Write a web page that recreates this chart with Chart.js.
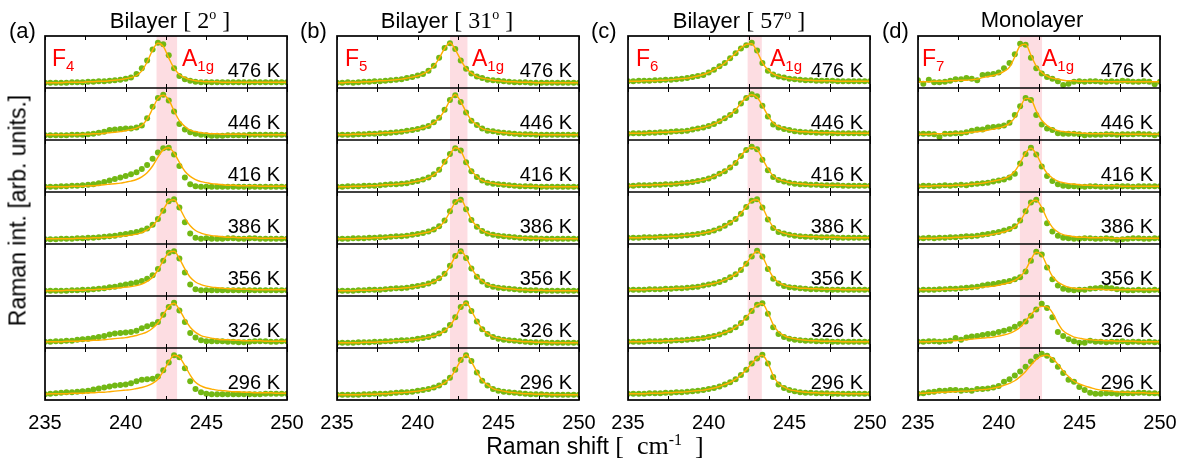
<!DOCTYPE html>
<html>
<head>
<meta charset="utf-8">
<title>Raman A1g vs temperature</title>
<script src="https://cdn.jsdelivr.net/npm/chart.js"></script>
<style>
  html, body { margin: 0; padding: 0; background: #fff; }
  #fig { position: relative; width: 1186px; height: 463px; overflow: hidden;
         font-family: "Liberation Sans", Arial, sans-serif; color: #000; }
  #fig canvas { position: absolute; top: 0; }
  .t { position: absolute; white-space: nowrap; }
  .serif { font-family: "Liberation Serif", "Times New Roman", serif; }
  .title { font-size: 22px; line-height: 22px; width: 300px; text-align: center; }
  .title .serif { font-size: 24px; }
  .title .deg { font-size: 14px; position: relative; top: -9px; }
  .letter { font-size: 22px; line-height: 22px; }
  .mode { font-size: 23px; line-height: 23px; color: #ff0000; }
  .mode .sub { font-size: 15px; position: relative; top: 5px; }
  .temp { font-size: 20px; line-height: 20px; width: 100px; text-align: right; }
  .axt { font-size: 23px; line-height: 23px; width: 400px; text-align: center; }
  .axt .serif { font-size: 26px; }
  .axt .sup { font-size: 16px; position: relative; top: -9px; }
</style>
</head>
<body>
<div id="fig"></div>
<script>
// Raman shift grid (cm-1), one dot every 1/3 cm-1
var xs = [235,235.33,235.67,236,236.33,236.67,237,237.33,237.67,238,238.33,238.67,239,239.33,239.67,
          240,240.33,240.67,241,241.33,241.67,242,242.33,242.67,243,243.33,243.67,244,244.33,244.67,
          245,245.33,245.67,246,246.33,246.67,247,247.33,247.67,248,248.33,248.67,249,249.33,249.67,250];
var temps = ['476 K', '446 K', '416 K', '386 K', '356 K', '326 K', '296 K'];
var xTicks = [235, 240, 245, 250];
var minorTicks = [237.5, 242.5, 247.5];
var panelLetters = ['(a)', '(b)', '(c)', '(d)'];
var panelTitles = ['Bilayer <span class="serif">[ 2<span class="deg">o</span> ]</span>',
                   'Bilayer <span class="serif">[ 31<span class="deg">o</span> ]</span>',
                   'Bilayer <span class="serif">[ 57<span class="deg">o</span> ]</span>',
                   'Monolayer'];
var modeIndex = ['4', '5', '6', '7'];
var bandLo = [241.9, 242.0, 242.4, 241.3];
var bandHi = [243.2, 243.1, 243.3, 242.7];

// intensities in % of one row, rows from 476 K (top) to 296 K (bottom)
var dotsA = [
  [10,10,10,10,10,11,11,11,12,12,13,13,14,15,16,18,20,27,38,53,74,87,84,63,38,23,17,14,12,11,11,11,11,11,11,11,11,11,11,11,11,11,11,11,11,11],
  [9,9,9,9,9,10,10,10,11,12,14,16,19,20,21,22,22,24,28,42,64,81,87,76,55,31,20,15,12,10,9,8,8,8,9,9,9,9,10,10,10,10,10,10,10,10],
  [10,10,10,11,11,12,12,13,14,15,17,19,22,25,28,31,34,38,44,52,64,76,84,85,72,50,28,15,11,10,10,10,10,10,10,10,10,10,10,10,10,10,10,10,10,10],
  [9,9,9,10,10,10,11,11,12,12,13,14,15,16,18,19,21,23,26,30,37,48,64,82,86,70,42,20,12,10,11,10,10,10,11,11,10,10,11,11,10,10,10,10,10,10],
  [10,10,10,10,10,11,11,12,12,13,14,15,17,18,20,22,24,26,29,33,40,52,68,83,86,72,45,22,13,11,11,11,11,11,11,11,11,11,11,11,11,11,11,11,11,11],
  [12,12,13,13,14,14,16,17,18,19,21,23,26,28,29,30,31,33,38,42,45,50,64,79,87,72,50,29,20,15,13,13,13,13,12,12,11,11,12,13,13,13,12,12,13,13],
  [11,12,13,14,15,15,16,17,18,20,22,24,26,28,29,30,32,36,39,40,41,45,57,72,86,82,61,36,21,15,12,11,11,11,11,11,11,11,11,11,11,12,12,12,12,12]
];
var fitA = [
  [10,10,10,10,11,11,11,11,12,12,13,13,14,15,16,18,20,24,33,50,73,86,80,58,38,26,20,16,14,13,12,12,12,11,11,11,11,11,11,11,11,11,11,11,11,11],
  [10,10,10,10,10,10,10,11,11,12,12,13,14,15,16,18,20,23,28,40,60,80,86,77,56,37,26,19,16,14,13,12,12,11,11,11,11,11,10,10,10,10,10,10,10,10],
  [10,10,10,10,10,11,11,11,12,12,13,14,15,16,17,19,21,24,29,37,50,67,81,85,75,57,40,30,24,20,18,16,15,14,13,13,12,12,12,12,11,11,11,11,11,11],
  [10,10,10,10,10,10,11,11,11,12,12,13,13,14,15,16,17,19,22,27,35,48,66,82,85,70,50,35,26,21,18,16,15,14,13,13,12,12,12,12,11,11,11,11,11,11],
  [10,10,10,10,11,11,11,11,12,12,13,13,14,15,16,17,18,20,23,28,36,50,68,83,86,72,52,36,27,22,19,17,16,15,14,14,13,13,13,12,12,12,12,12,12,12],
  [12,12,12,12,13,13,13,14,14,15,15,16,17,18,19,20,22,24,27,31,38,48,64,80,86,74,55,40,30,24,21,19,17,16,16,15,15,14,14,14,14,13,13,13,13,13],
  [11,12,12,12,12,13,13,13,14,14,15,15,16,17,18,19,20,22,24,27,32,40,55,73,86,82,66,48,34,27,23,21,19,18,17,16,16,15,15,14,14,14,14,13,13,13]
];
var dotsB = [
  [10,10,11,10,11,12,12,13,13,14,15,16,17,19,21,24,27,33,43,58,77,86,75,53,37,28,22,19,16,15,14,13,12,11,11,11,10,10,10,10,10,10,10,10,10,10],
  [10,10,10,10,11,11,12,12,13,13,14,15,16,18,19,21,24,27,34,43,58,77,86,73,53,37,29,22,18,17,15,14,13,12,11,11,11,10,10,10,10,10,10,10,10,10],
  [10,10,11,11,11,12,12,12,13,14,15,15,16,17,19,21,24,28,34,43,58,73,84,80,57,40,29,22,18,16,15,14,13,12,11,11,11,10,10,10,10,10,10,10,10,10],
  [10,10,10,11,11,11,12,12,13,13,14,15,15,16,18,19,21,24,28,34,45,63,81,85,67,46,33,25,20,18,16,15,14,13,12,11,11,11,10,10,10,10,10,10,10,10],
  [10,10,10,10,11,11,12,12,12,13,14,15,15,16,18,19,21,24,28,34,43,58,77,86,73,53,37,28,21,18,16,15,14,13,12,11,11,11,10,10,10,10,10,10,10,10],
  [10,10,10,10,11,11,11,12,12,13,13,14,15,15,16,18,19,21,24,28,34,44,59,79,86,71,51,36,27,21,18,16,15,14,13,12,11,11,11,10,10,10,10,10,10,10],
  [10,10,10,10,10,11,11,12,12,12,13,14,15,15,16,18,19,21,24,28,34,43,58,77,86,75,53,37,28,21,18,16,15,14,13,12,11,11,11,10,10,10,10,10,10,10]
];
var fitB = [
  [10,10,11,11,11,12,12,13,14,14,15,16,17,19,21,23,27,33,42,57,76,87,74,54,38,29,22,19,17,15,14,13,12,12,11,11,11,10,10,10,10,10,10,10,10,10],
  [10,10,10,11,11,11,12,12,13,14,14,15,16,17,19,21,23,27,33,42,57,76,87,74,54,38,29,22,19,17,15,14,13,12,12,11,11,11,10,10,10,10,10,10,10,10],
  [10,10,10,11,11,11,12,12,13,14,14,15,16,17,19,21,23,27,33,42,57,72,85,79,58,41,30,22,19,17,15,14,13,12,12,11,11,11,10,10,10,10,10,10,10,10],
  [10,10,10,10,11,11,11,12,12,13,14,14,15,16,17,19,21,23,27,33,44,62,80,86,68,47,34,26,21,18,17,15,14,13,12,12,11,11,11,10,10,10,10,10,10,10],
  [10,10,10,10,11,11,11,12,12,13,14,14,15,16,17,19,21,23,27,33,42,57,76,87,74,54,38,29,22,19,17,15,14,13,12,12,11,11,11,10,10,10,10,10,10,10],
  [10,10,10,10,10,11,11,11,12,12,13,14,14,15,16,17,19,21,23,27,33,43,58,78,87,72,52,37,28,22,19,17,15,14,13,12,12,11,11,11,10,10,10,10,10,10],
  [10,10,10,10,10,11,11,11,12,12,13,14,14,15,16,17,19,21,23,27,33,42,57,76,87,74,54,38,29,22,19,17,15,14,13,12,12,11,11,11,10,10,10,10,10,10]
];
var dotsC = [
  [13,13,14,14,14,15,15,16,16,17,18,19,21,23,25,30,35,42,48,57,67,76,82,87,72,48,33,26,22,20,18,17,16,15,15,14,14,14,14,13,13,13,13,13,13,13],
  [12,13,13,13,14,14,15,15,16,17,17,18,20,22,24,27,31,36,42,48,56,70,81,88,84,66,45,30,24,21,19,17,16,15,15,14,14,14,13,13,13,13,13,13,13,13],
  [12,12,13,13,13,14,14,15,15,16,17,18,19,21,23,26,30,35,40,47,56,69,81,87,82,62,42,29,23,20,18,16,15,15,14,14,13,13,13,13,12,12,12,12,12,12],
  [12,12,12,13,13,13,14,14,15,15,16,17,18,19,21,23,26,30,35,41,48,58,71,83,86,70,47,31,23,20,18,16,15,14,14,13,13,13,13,12,12,12,12,12,12,12],
  [12,12,12,12,13,13,13,14,14,15,15,16,17,18,20,22,24,27,31,36,42,50,62,76,87,76,52,33,24,19,17,16,15,14,13,13,13,12,12,12,12,12,12,12,12,12],
  [12,12,12,12,13,13,13,14,14,15,15,16,17,18,19,21,23,26,30,34,40,48,58,71,83,86,66,40,27,21,18,16,15,14,14,13,13,13,12,12,12,12,12,12,12,12],
  [12,12,12,12,13,13,13,14,14,15,15,16,17,18,19,21,23,26,30,34,40,48,58,70,80,87,70,44,30,23,19,17,15,14,14,13,13,13,12,12,12,12,12,12,12,12]
];
var fitC = [
  [13,13,13,14,14,14,15,15,16,17,18,19,21,23,26,30,35,41,48,57,67,77,84,85,70,49,35,27,23,20,18,17,16,15,15,14,14,14,14,13,13,13,13,13,13,13],
  [13,13,13,13,14,14,15,15,16,16,17,18,20,22,24,27,31,36,42,49,58,71,82,87,82,66,47,33,26,22,19,18,16,16,15,15,14,14,14,13,13,13,13,13,13,13],
  [12,12,13,13,13,14,14,15,15,16,17,18,19,21,23,26,30,35,41,48,57,70,81,86,82,64,45,31,24,21,18,17,16,15,14,14,14,13,13,13,13,12,12,12,12,12],
  [12,12,12,13,13,13,14,14,15,15,16,17,18,19,21,23,26,30,35,41,48,59,72,83,85,71,49,33,25,21,18,17,15,15,14,14,13,13,13,13,12,12,12,12,12,12],
  [12,12,12,12,13,13,13,14,14,15,15,16,17,18,20,22,24,27,31,36,42,51,63,77,86,76,54,36,26,21,18,17,15,15,14,14,13,13,13,13,12,12,12,12,12,12],
  [12,12,12,12,13,13,13,14,14,15,15,16,17,18,19,21,23,26,30,34,40,48,59,72,83,85,68,45,31,24,20,18,16,15,14,14,13,13,13,13,12,12,12,12,12,12],
  [12,12,12,12,13,13,13,14,14,15,15,16,17,18,19,21,23,26,30,34,40,48,58,70,81,86,71,47,32,25,20,18,16,15,14,14,13,13,13,13,12,12,12,12,12,12]
];
var dotsD = [
  [15,8,16,11,11,12,14,17,17,19,18,15,25,26,27,30,38,48,65,85,83,58,38,28,21,18,13,6,8,12,13,12,13,13,12,12,13,12,14,13,12,12,13,12,7,12],
  [12,12,12,11,6,12,12,13,13,15,18,20,20,24,25,26,28,33,48,65,81,77,48,30,22,19,13,12,12,12,11,9,10,10,10,11,11,10,11,11,11,12,11,11,9,11],
  [11,12,12,11,12,13,12,13,14,13,15,16,17,18,20,22,24,28,35,55,73,85,72,49,31,21,15,12,11,11,10,10,11,11,10,10,10,11,11,11,10,11,11,11,11,11],
  [11,11,12,11,12,12,13,13,14,15,15,16,18,19,21,23,26,29,34,45,63,80,85,66,40,24,16,12,11,10,10,11,11,10,10,11,10,8,9,10,11,11,10,10,11,11],
  [11,12,12,12,13,13,14,14,15,16,17,18,20,22,23,25,27,29,32,36,47,68,85,80,55,32,20,14,12,11,12,12,14,15,16,16,15,13,12,11,11,12,11,11,12,11],
  [12,12,13,13,12,13,14,19,16,20,22,23,25,27,28,31,33,36,41,46,51,62,74,85,77,59,31,23,17,13,10,10,14,12,12,11,12,12,13,11,12,12,11,12,11,11],
  [12,13,15,16,18,18,19,19,18,19,18,21,21,22,24,27,35,40,47,55,64,74,83,89,85,77,64,52,39,35,25,19,14,12,12,13,13,12,13,13,13,14,14,13,13,12]
];
var fitD = [
  [12,12,12,13,13,13,14,14,15,15,16,17,20,22,24,27,32,40,60,81,84,63,42,30,23,19,17,15,14,14,13,13,13,13,13,12,12,12,12,12,12,12,12,12,12,12],
  [11,11,11,12,12,12,12,13,13,14,15,16,17,19,21,23,26,32,43,62,80,78,56,38,28,22,18,16,15,14,13,13,12,12,12,12,12,11,11,11,11,11,11,11,11,11],
  [11,11,11,12,12,12,12,13,13,14,15,16,17,19,21,23,26,31,40,56,75,84,73,52,36,27,21,18,16,15,14,13,13,12,12,12,12,12,11,11,11,11,11,11,11,11],
  [11,11,11,11,12,12,12,13,13,14,14,15,16,17,19,21,23,27,33,44,62,80,84,70,48,32,23,18,16,14,13,13,12,12,12,12,11,11,11,11,11,11,11,11,11,11],
  [12,12,12,12,12,13,13,13,14,14,15,16,17,18,19,21,23,26,30,37,50,70,84,79,58,38,27,21,17,15,14,14,13,13,13,12,12,12,12,12,12,12,12,12,12,12],
  [12,12,12,13,13,13,14,14,15,16,17,18,19,20,21,23,25,28,33,40,52,64,75,80,79,68,48,33,26,21,19,17,16,15,15,14,14,13,13,13,13,12,12,12,12,12],
  [13,13,14,14,15,15,16,16,17,17,18,19,20,21,23,25,28,32,37,45,55,67,78,85,86,80,69,56,45,36,31,27,24,21,19,18,17,16,15,15,14,14,14,13,13,13]
];

var panels = [
  { dots: dotsA, fits: fitA },
  { dots: dotsB, fits: fitB },
  { dots: dotsC, fits: fitC },
  { dots: dotsD, fits: fitD }
];

// layout (pixels)
var plotLeft = [45, 337, 628, 918];
var plotW = 242, padL = 25, padR = 25;
var titleCenter = [170, 447, 739, 1032];
var letterLeft = [9, 300, 591, 882];
var fLeft = [52, 345, 636, 922];
var aLeft = [182, 472, 770, 1042];

var fig = document.getElementById('fig');

function addText(cls, html, left, top) {
  var d = document.createElement('div');
  d.className = 't ' + cls;
  d.innerHTML = html;
  d.style.left = left + 'px';
  d.style.top = top + 'px';
  fig.appendChild(d);
  return d;
}

// frame, row separators and inward tick marks
var framePlugin = {
  id: 'frame',
  afterDatasetsDraw: function(chart) {
    var ctx = chart.ctx, a = chart.chartArea;
    var x = chart.scales.x, y = chart.scales.y;
    var marks = xTicks.concat(minorTicks);
    ctx.save();
    ctx.strokeStyle = '#000';
    ctx.lineWidth = 1;
    for (var r = 0; r <= 7; r++) {
      var py = y.getPixelForValue(r);
      marks.forEach(function(v) {
        var px = Math.round(x.getPixelForValue(v)) + 0.5;
        ctx.beginPath();
        if (r < 7) { ctx.moveTo(px, py); ctx.lineTo(px, py - 4); }
        if (r > 0) { ctx.moveTo(px, py); ctx.lineTo(px, py + 4); }
        ctx.stroke();
      });
    }
    ctx.lineWidth = 1.7;
    for (var k = 1; k < 7; k++) {
      var yy = y.getPixelForValue(k);
      ctx.beginPath();
      ctx.moveTo(a.left, yy);
      ctx.lineTo(a.right, yy);
      ctx.stroke();
    }
    ctx.strokeRect(a.left, a.top, a.right - a.left, a.bottom - a.top);
    ctx.restore();
  }
};

panels.forEach(function(p, n) {
  var canvas = document.createElement('canvas');
  canvas.width = plotW + padL + padR;
  canvas.height = 463;
  canvas.style.left = (plotLeft[n] - padL) + 'px';
  fig.appendChild(canvas);

  var datasets = [{
    data: [{ x: bandLo[n], y: 7 }, { x: bandHi[n], y: 7 }],
    fill: 'origin',
    backgroundColor: '#fddde2',
    borderWidth: 0,
    pointRadius: 0,
    order: 3
  }];
  p.dots.forEach(function(row, i) {
    var off = 6 - i;
    datasets.push({
      data: xs.map(function(v, j) { return { x: v, y: off + row[j] / 100 }; }),
      showLine: false,
      pointRadius: 3,
      pointBackgroundColor: '#72b814',
      pointBorderWidth: 0,
      order: 2
    });
    datasets.push({
      data: xs.map(function(v, j) { return { x: v, y: off + p.fits[i][j] / 100 }; }),
      borderColor: '#ffae00',
      borderWidth: 1.4,
      pointRadius: 0,
      tension: 0.4,
      cubicInterpolationMode: 'monotone',
      fill: false,
      order: 1
    });
  });

  var chart = new Chart(canvas, {
    type: 'line',
    data: { datasets: datasets },
    options: {
      responsive: false,
      animation: false,
      events: [],
      layout: { padding: { left: padL, right: padR, top: 36, bottom: 23 } },
      plugins: { legend: { display: false }, tooltip: { enabled: false } },
      scales: {
        x: {
          type: 'linear', min: 235, max: 250,
          ticks: { stepSize: 5, maxRotation: 0, padding: 3, color: '#000',
                   font: { family: '"Liberation Sans", Arial, sans-serif', size: 20 } },
          grid: { display: false },
          border: { display: false },
          afterFit: function(s) { s.height = 40; }
        },
        y: { display: false, min: 0, max: 7 }
      }
    },
    plugins: [framePlugin]
  });

  var ys = chart.scales.y, right = chart.chartArea.right + plotLeft[n] - padL;
  temps.forEach(function(t, i) {
    var rowTop = ys.getPixelForValue(7 - i);
    addText('temp', t, right - 7 - 100, Math.round(rowTop + 24));
  });

  addText('title', panelTitles[n], titleCenter[n] - 150, 9);
  addText('letter', panelLetters[n], letterLeft[n], 20);
  addText('mode', 'F<span class="sub">' + modeIndex[n] + '</span>', fLeft[n], 47);
  addText('mode', 'A<span class="sub">1g</span>', aLeft[n], 47);
});

addText('axt', 'Raman shift <span class="serif">[&nbsp; cm<span class="sup">-1</span>&nbsp; ]</span>', 595 - 200, 434);
var yt = addText('axt', 'Raman int. [arb. units.]', 18 - 200, 210 - 11);
yt.style.transform = 'rotate(-90deg)';
</script>
</body>
</html>
